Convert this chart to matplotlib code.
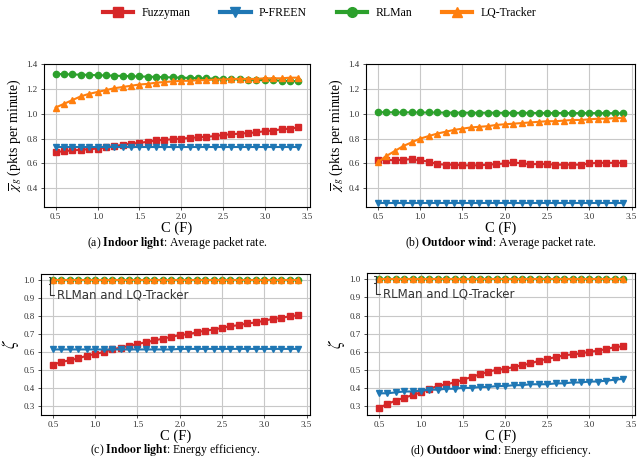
import numpy as np
import matplotlib
matplotlib.use('Agg')
import matplotlib.pyplot as plt
from matplotlib.lines import Line2D

plt.rcParams['font.family'] = 'Liberation Serif'
plt.rcParams['mathtext.fontset'] = 'stix'

# capacitance values (F)
cap = [round(0.5 + 0.1 * i, 1) for i in range(30)]

# (a) indoor light, average packet rate
a_fuzzy = [0.69, 0.70, 0.705, 0.71, 0.715, 0.72, 0.73, 0.74, 0.75, 0.76,
           0.765, 0.775, 0.785, 0.79, 0.795, 0.80, 0.805, 0.81, 0.815, 0.82,
           0.83, 0.835, 0.84, 0.845, 0.85, 0.86, 0.865, 0.875, 0.88, 0.89]
a_pfreen = [0.73] * 30
a_rlman = [1.32, 1.318, 1.316, 1.314, 1.312, 1.31, 1.308, 1.306, 1.304, 1.302,
           1.30, 1.298, 1.296, 1.294, 1.292, 1.29, 1.288, 1.286, 1.284, 1.282,
           1.28, 1.278, 1.276, 1.274, 1.272, 1.27, 1.268, 1.266, 1.264, 1.26]
a_lq = [1.05, 1.08, 1.11, 1.14, 1.16, 1.175, 1.19, 1.205, 1.215, 1.225,
        1.235, 1.24, 1.25, 1.255, 1.26, 1.265, 1.265, 1.27, 1.27, 1.275,
        1.275, 1.28, 1.28, 1.28, 1.28, 1.285, 1.285, 1.285, 1.29, 1.29]

# (b) outdoor wind, average packet rate
b_fuzzy = [0.63, 0.63, 0.625, 0.63, 0.635, 0.625, 0.615, 0.595, 0.59, 0.59,
           0.585, 0.585, 0.585, 0.59, 0.595, 0.60, 0.61, 0.60, 0.595, 0.595,
           0.595, 0.59, 0.59, 0.59, 0.59, 0.60, 0.605, 0.605, 0.605, 0.605]
b_pfreen = [0.28] * 30
b_rlman = [1.012, 1.012, 1.011, 1.011, 1.011, 1.010, 1.010, 1.010, 1.009, 1.009,
           1.009, 1.008, 1.008, 1.008, 1.008, 1.007, 1.007, 1.007, 1.007, 1.006,
           1.006, 1.006, 1.006, 1.005, 1.005, 1.005, 1.005, 1.005, 1.004, 1.004]
b_lq = [0.61, 0.66, 0.70, 0.74, 0.77, 0.80, 0.82, 0.84, 0.855, 0.87,
        0.88, 0.89, 0.895, 0.90, 0.91, 0.915, 0.92, 0.925, 0.93, 0.935,
        0.94, 0.94, 0.945, 0.95, 0.95, 0.955, 0.96, 0.96, 0.965, 0.965]

# (c) indoor light, energy efficiency
c_fuzzy = [0.53, 0.545, 0.555, 0.565, 0.58, 0.59, 0.60, 0.615, 0.625, 0.635,
           0.645, 0.655, 0.665, 0.675, 0.685, 0.695, 0.70, 0.71, 0.72, 0.725,
           0.735, 0.745, 0.75, 0.76, 0.765, 0.775, 0.785, 0.79, 0.80, 0.805]
c_pfreen = [0.615] * 15 + [0.618] * 15
c_rlman = [1.0] * 30
c_lq = [1.0] * 30

# (d) outdoor wind, energy efficiency
d_fuzzy = [0.29, 0.31, 0.33, 0.345, 0.36, 0.375, 0.395, 0.41, 0.42, 0.43,
           0.445, 0.46, 0.475, 0.49, 0.50, 0.505, 0.515, 0.525, 0.535, 0.55,
           0.56, 0.57, 0.58, 0.585, 0.59, 0.60, 0.605, 0.615, 0.625, 0.63]
d_pfreen = [0.37, 0.37, 0.375, 0.38, 0.38, 0.385, 0.39, 0.39, 0.395, 0.395,
            0.40, 0.40, 0.405, 0.405, 0.41, 0.41, 0.415, 0.415, 0.42, 0.42,
            0.42, 0.425, 0.425, 0.43, 0.43, 0.435, 0.435, 0.44, 0.445, 0.45]
d_rlman = [1.0] * 30
d_lq = [1.0] * 30

names = ['Fuzzyman', 'P-FREEN', 'RLMan', 'LQ-Tracker']
colors = ['#d62728', '#1f77b4', '#2ca02c', '#ff7f0e']
markers = ['s', 'v', 'o', '^']

panels = [
    ([a_fuzzy, a_pfreen, a_rlman, a_lq], (0.25, 1.4), [0.4, 0.6, 0.8, 1.0, 1.2, 1.4],
     r'$\overline{\chi}_g$ (pkts per minute)', '(a) ', 'Indoor light', ': Average packet rate.'),
    ([b_fuzzy, b_pfreen, b_rlman, b_lq], (0.25, 1.4), [0.4, 0.6, 0.8, 1.0, 1.2, 1.4],
     r'$\overline{\chi}_g$ (pkts per minute)', '(b) ', 'Outdoor wind', ': Average packet rate.'),
    ([c_fuzzy, c_pfreen, c_rlman, c_lq], (0.25, 1.035), [0.3, 0.4, 0.5, 0.6, 0.7, 0.8, 0.9, 1.0],
     r'$\zeta$', '(c) ', 'Indoor light', ': Energy efficiency.'),
    ([d_fuzzy, d_pfreen, d_rlman, d_lq], (0.25, 1.035), [0.3, 0.4, 0.5, 0.6, 0.7, 0.8, 0.9, 1.0],
     r'$\zeta$', '(d) ', 'Outdoor wind', ': Energy efficiency.'),
]

# axes boxes in pixels (left, top, right, bottom) of a 639x461 figure
W, H = 639, 461
boxes = [(44, 64, 310, 207), (366, 64, 635, 207), (41, 274, 310, 415), (367, 273, 635, 415)]

fig = plt.figure(figsize=(W / 100, H / 100), dpi=100)

for (series, ylim, yticks, ylab, tag, bold, rest), (l, t, r, b) in zip(panels, boxes):
    ax = fig.add_axes([l / W, 1 - b / H, (r - l) / W, (b - t) / H])
    for vals, col, mk in zip(series, colors, markers):
        ax.plot(cap, vals, color=col, marker=mk, markersize=4.5, linewidth=1.5)
    ax.set_xlim(0.36, 3.54)
    ax.set_ylim(*ylim)
    ax.set_xticks([0.5, 1.0, 1.5, 2.0, 2.5, 3.0, 3.5])
    ax.set_yticks(yticks)
    ax.tick_params(labelsize=6.5, length=2.5, width=0.6, pad=2, colors='#333333', labelcolor='#333333')
    ax.grid(True, color='#c8c8c8', linewidth=0.8)
    ax.set_axisbelow(True)
    for s in ax.spines.values():
        s.set_linewidth(0.8)
    ax.set_xlabel('C (F)', fontsize=10.5, labelpad=0)
    if ylab == r'$\zeta$':
        ax.set_ylabel(ylab, fontsize=12, labelpad=2)
    else:
        ax.set_ylabel(ylab, fontsize=10, labelpad=2)
    ax.text(0.5, -0.25, tag + r'$\bf{' + bold.replace(' ', r'\ ') + '}$' + rest,
            transform=ax.transAxes, ha='center', va='center', fontsize=8.5)
    if ylab == r'$\zeta$':
        ax.annotate('RLMan and LQ-Tracker', xy=(0.47, 1.0), xytext=(0.55, 0.92),
                    fontsize=8.5, family='DejaVu Sans', color='#333333', va='center',
                    arrowprops=dict(arrowstyle='-[, widthB=0.3, lengthB=0.15, angleB=90',
                                    connectionstyle='angle,angleA=180,angleB=90,rad=0',
                                    color='#333333', linewidth=0.8, shrinkA=0, shrinkB=0))

handles = [Line2D([], [], color=c, marker=m, markersize=7, linewidth=3) for c, m in zip(colors, markers)]
fig.legend(handles, names, loc='upper center', bbox_to_anchor=(0.5, 1.008), ncol=4,
           frameon=False, fontsize=8.5, handlelength=2.6, columnspacing=2.5, handletextpad=0.7)

fig.savefig('out.png', dpi=100)
